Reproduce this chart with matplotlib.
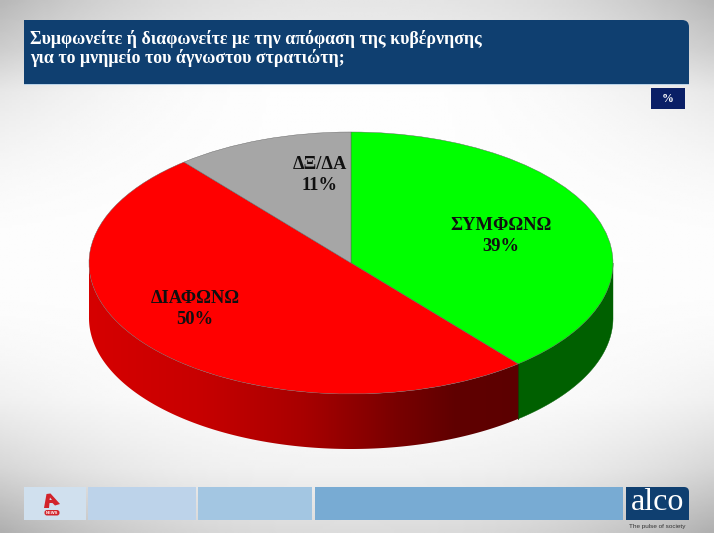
import matplotlib

matplotlib.use("Agg")

import matplotlib.pyplot as plt
import numpy as np
from matplotlib.colors import LinearSegmentedColormap
from matplotlib.patches import FancyBboxPatch, PathPatch, Polygon, Rectangle
from matplotlib.path import Path

W, H = 714, 533

labels = ["ΣΥΜΦΩΝΩ", "ΔΙΑΦΩΝΩ", "ΔΞ/ΔΑ"]
values = [39, 50, 11]
colors = ["#00ff00", "#ff0000", "#a6a6a6"]
title_lines = [
    "Συμφωνείτε ή διαφωνείτε με την απόφαση της κυβέρνησης",
    "για το μνημείο του άγνωστου στρατιώτη;",
]
label_pos = [(501, 236), (195, 309), (320, 175)]
footer_boxes = [
    (24, 86, "#d0e0ee"),
    (88, 196, "#bdd3ea"),
    (198, 312, "#a3c6e2"),
    (315, 623, "#78abd3"),
]
SERIF = "Liberation Serif"
NAVY = "#0f3f70"

fig = plt.figure(figsize=(W / 100, H / 100), dpi=100)

# page layer in pixel coordinates, y going down
page = fig.add_axes([0, 0, 1, 1], zorder=0)

yy, xx = np.mgrid[0:1:200j, 0:1:200j]
vert = np.interp(yy, [0, 0.09, 0.17, 0.75, 0.88, 1], [0.9, 0.93, 0.995, 0.99, 0.95, 0.86])
side = 1 - 0.2 * np.abs(2 * xx - 1) ** 2.5 * np.abs(2 * yy - 1) ** 2
page.imshow(vert * side, cmap="gray", vmin=0, vmax=1, extent=(0, W, H, 0), aspect="auto")
page.set_xlim(0, W)
page.set_ylim(H, 0)
page.axis("off")


def rect(x0, y0, x1, y1, color):
    page.add_patch(Rectangle((x0, y0), x1 - x0, y1 - y0, facecolor=color, edgecolor="none"))


def top_right_round(x0, y0, x1, y1, r, color):
    verts = [(x0, y0), (x1 - r, y0), (x1, y0), (x1, y0 + r), (x1, y1), (x0, y1), (x0, y0)]
    codes = [Path.MOVETO, Path.LINETO, Path.CURVE3, Path.CURVE3, Path.LINETO, Path.LINETO, Path.CLOSEPOLY]
    page.add_patch(PathPatch(Path(verts, codes), facecolor=color, edgecolor="none"))


# header banner
top_right_round(24, 20, 689, 84, 7, NAVY)
rect(24, 84, 689, 85, "#b9d2e8")
for line, y in zip(title_lines, [39, 58]):
    page.text(30, y, line, color="white", family=SERIF, weight="bold", fontsize=12.9, va="center")

rect(651, 88, 685, 109, "#0a1f66")
page.text(668, 99, "%", color="white", family=SERIF, weight="bold", fontsize=8.5, ha="center", va="center")

# footer strip
for x0, x1, color in footer_boxes:
    rect(x0, 487, x1, 520, color)
top_right_round(626, 487, 689, 520, 5, NAVY)
page.text(657.5, 503, "alco", color="white", family=SERIF, fontsize=23, ha="center", va="center")
page.text(657, 526.5, "The pulse of society", color="#333333", family="Liberation Sans", fontsize=4.6, ha="center", va="center")

# channel logo
page.add_patch(
    Polygon(
        [(44, 508), (46.5, 494), (50.5, 493.5), (60, 504), (55, 505.5), (52.5, 503), (49.5, 503), (49, 508)],
        closed=True,
        facecolor="#d2232a",
        edgecolor="none",
    )
)
page.add_patch(Polygon([(49.5, 500), (50, 497.5), (52, 500)], closed=True, facecolor="#d0e0ee", edgecolor="none"))
page.add_patch(
    FancyBboxPatch((44.5, 510), 15, 5.5, boxstyle="round,pad=0,rounding_size=2.5", facecolor="#d2232a", edgecolor="none")
)
page.text(52, 512.8, "NEWS", color="white", family="Liberation Sans", weight="bold", fontsize=3, ha="center", va="center")

# pie: radius 1 in data units maps to the 262 x 131 px ellipse
CX, CY, RX, RY, DEPTH = 351, 263, 262, 131, 55
pie_ax = fig.add_axes(
    [(CX - RX * 1.5) / W, 1 - (CY + RY * 1.5) / H, 3 * RX / W, 3 * RY / H], zorder=1
)
pie_ax.patch.set_alpha(0)

shares = np.asarray(values, dtype=float) / sum(values)
edges = 90 - 360 * np.concatenate([[0], np.cumsum(shares)])
drop = DEPTH / RY


def wall_outline(start_deg, stop_deg):
    theta = np.radians(np.linspace(start_deg, stop_deg, 200))
    top = np.column_stack([np.cos(theta), np.sin(theta)])
    bottom = top[::-1] - [0, drop]
    return np.vstack([top, bottom])


# green wall, flat colour, right side of the front
green_wall = Polygon(wall_outline(0, edges[1]), closed=True, facecolor="#006000", edgecolor="#006000", linewidth=0.3, zorder=1)
pie_ax.add_patch(green_wall)

# red wall, gradient running left to right, clipped to the wall shape
red_wall = Polygon(wall_outline(edges[1], -180), closed=True, facecolor="none", edgecolor="none", zorder=1)
pie_ax.add_patch(red_wall)
wall_cmap = LinearSegmentedColormap.from_list(
    "wall",
    [(0, "#d60000"), (0.25, "#c80000"), (0.5, "#a80000"), (0.72, "#780000"), (0.85, "#600000"), (1, "#5c0000")],
)
gradient = pie_ax.imshow(
    np.linspace(0, 1, 256)[None, :],
    cmap=wall_cmap,
    extent=(-1, np.cos(np.radians(edges[1])), -1.5, 1.5),
    aspect="auto",
    zorder=1,
)
gradient.set_clip_path(red_wall)

# seam between the red and green walls
seam = np.radians(edges[1])
pie_ax.plot([np.cos(seam)] * 2, [np.sin(seam), np.sin(seam) - drop], color="#203000", linewidth=0.6, zorder=2)

pie_ax.pie(
    values,
    colors=colors,
    startangle=90,
    counterclock=False,
    radius=1,
    wedgeprops={"edgecolor": "#606060", "linewidth": 0.3, "zorder": 3},
)
pie_ax.set_aspect("auto")
pie_ax.set_xlim(-1.5, 1.5)
pie_ax.set_ylim(-1.5, 1.5)
pie_ax.axis("off")

# slice labels
for label, value, (x, y) in zip(labels, values, label_pos):
    fig.text(
        x / W,
        1 - y / H,
        f"{label}\n{value}%",
        family=SERIF,
        weight="bold",
        fontsize=13.3,
        color="#101010",
        ha="center",
        va="center",
        linespacing=1.3,
        zorder=5,
    )

fig.savefig("out.png", dpi=100)
plt.close(fig)
